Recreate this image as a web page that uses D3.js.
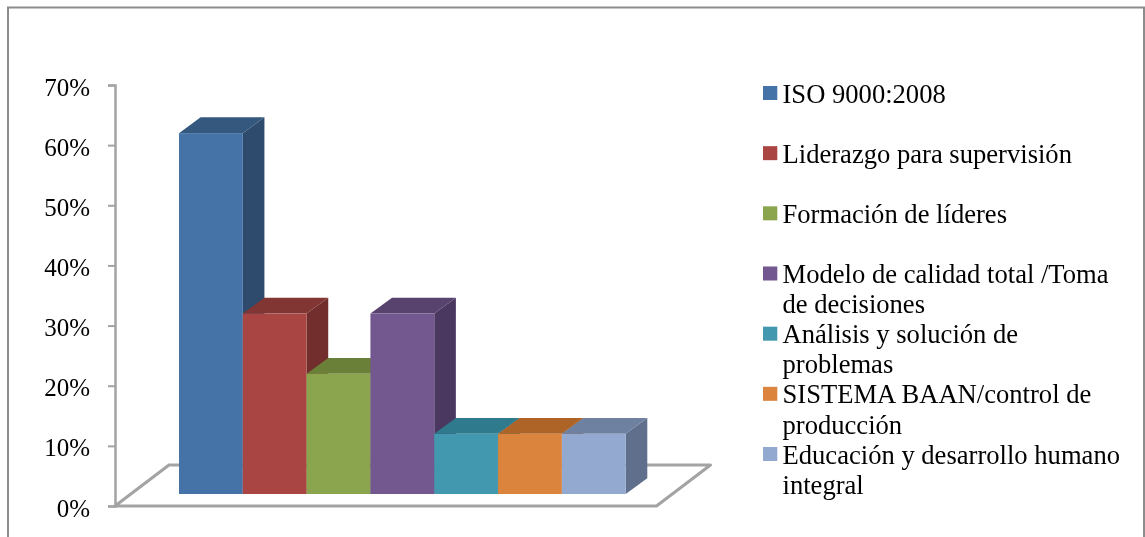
<!DOCTYPE html>
<html>
<head>
<meta charset="utf-8">
<script src="https://cdn.jsdelivr.net/npm/d3@7"></script>
<style>
  html, body { margin: 0; padding: 0; background: #fff; overflow: hidden; }
  /* the reference is a slightly soft scan, a small blur gets close to it */
  svg { display: block; font-family: "Liberation Serif", serif; filter: blur(0.4px); }
  .axis text { font-size: 25px; fill: #000; }
  .legend text { font-size: 26.6px; fill: #000; }
</style>
</head>
<body>
<div id="chart"></div>
<script>
// legend text, "\n" is where the reference wraps the line
const categories = [
  "ISO 9000:2008",
  "Liderazgo para supervisión",
  "Formación de líderes",
  "Modelo de calidad total /Toma\nde decisiones",
  "Análisis y solución de\nproblemas",
  "SISTEMA BAAN/control de\nproducción",
  "Educación y desarrollo humano\nintegral"
];
const values = [60, 30, 20, 30, 10, 10, 10];
const yTicks = [0, 10, 20, 30, 40, 50, 60, 70];

// front, top and side face of each bar
const frontColors = ["#4573a8", "#a94643", "#8ba54f", "#73578f", "#4198af", "#db843d", "#93a9d0"];
const topColors   = ["#35587f", "#823633", "#6a8039", "#58436f", "#2f7a8c", "#ae6427", "#6f81a0"];
const sideColors  = ["#2e4a6c", "#722e2c", "#5c6f32", "#4b3860", "#2a6a7a", "#965622", "#5f6f8c"];

const width = 1145, height = 537;
const grey = "#a3a3a3";

const svg = d3.select("#chart").append("svg")
    .attr("width", width).attr("height", height);

// outer chart frame, cropped at the bottom of the picture
svg.append("path")
    .attr("d", "M8,537V7.5H1144V537")
    .attr("fill", "none").attr("stroke", "#8c8c8c").attr("stroke-width", 2);

const y = d3.scaleLinear().domain([0, 70]).range([506, 85]);
const x = d3.scaleBand().domain(d3.range(categories.length)).range([179, 625.7]);

// 3D offsets: back edge of a bar, bar base above the floor front, floor depth
const dx = 21.6, dy = 15.8, baseLift = 12;
const floorDx = 54, floorDy = 41, floorRight = 656.5;

// ---- floor ----
svg.append("path")
    .attr("d", `M${x.range()[0] - 64},${y(0)} L${x.range()[0] - 64 + floorDx},${y(0) - floorDy}
                H${floorRight + floorDx} L${floorRight},${y(0)} Z`)
    .attr("fill", "#fff").attr("stroke", grey).attr("stroke-width", 3)
    .attr("stroke-linejoin", "round");

// ---- y axis ----
const axis = svg.append("g").attr("class", "axis")
    .attr("transform", "translate(115,0)")
    .call(d3.axisLeft(y).tickValues(yTicks).tickFormat(d => d + "%").tickSize(7).tickPadding(18));
axis.select(".domain").attr("stroke", grey).attr("stroke-width", 2.5);
axis.selectAll(".tick line").attr("stroke", grey).attr("stroke-width", 2);
axis.selectAll("text").attr("dy", "0.4em");
axis.attr("font-family", null).attr("font-size", null);

// ---- bars, left to right so each front covers the previous side ----
const bars = svg.append("g").selectAll("g").data(values).join("g");

bars.append("path")   // side
    .attr("fill", (d, i) => sideColors[i])
    .attr("d", (d, i) => {
      const r = x(i) + x.bandwidth(), t = y(d) - baseLift, b = y(0) - baseLift;
      return `M${r},${t} l${dx},${-dy} V${b - dy} L${r},${b} Z`;
    });
bars.append("path")   // top
    .attr("fill", (d, i) => topColors[i])
    .attr("d", (d, i) => {
      const t = y(d) - baseLift;
      return `M${x(i)},${t} l${dx},${-dy} h${x.bandwidth()} l${-dx},${dy} Z`;
    });
bars.append("rect")   // front
    .attr("fill", (d, i) => frontColors[i])
    .attr("x", (d, i) => x(i))
    .attr("width", x.bandwidth())
    .attr("y", d => y(d) - baseLift)
    .attr("height", d => y(0) - y(d));

// ---- legend ----
const legendY = d3.scalePoint().domain(d3.range(categories.length)).range([93, 454]);
const legend = svg.append("g").attr("class", "legend")
    .selectAll("g").data(categories).join("g")
    .attr("transform", (d, i) => `translate(763,${legendY(i)})`);

legend.append("rect")
    .attr("y", -7).attr("width", 14.3).attr("height", 14)
    .attr("fill", (d, i) => frontColors[i]);

legend.selectAll("text").data(d => d.split("\n")).join("text")
    .attr("x", 19.5)
    .attr("y", (d, i) => 9.5 + i * 30.2)
    .text(d => d);
</script>
</body>
</html>
